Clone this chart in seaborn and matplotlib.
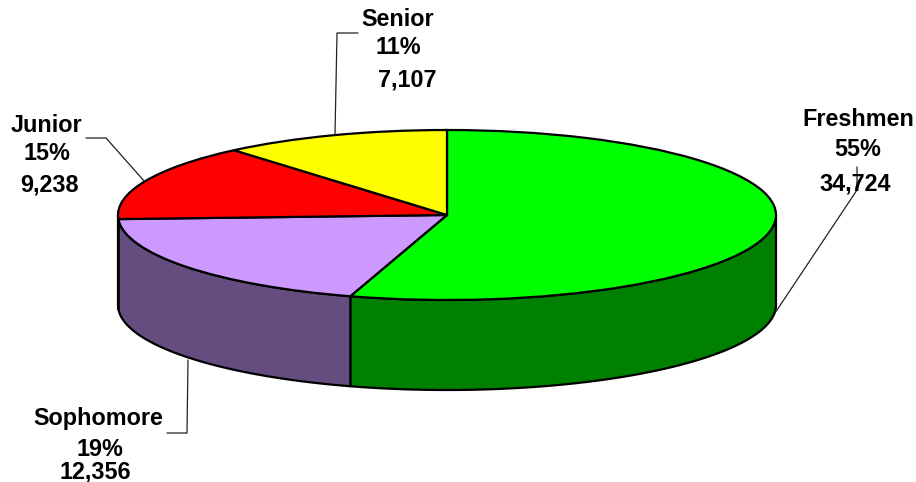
import numpy as np
import seaborn as sns
import matplotlib.pyplot as plt

# Chart data
classes = ['Freshmen', 'Sophomore', 'Junior', 'Senior']
students = [34724, 12356, 9238, 7107]
percents = ['55%', '19%', '15%', '11%']
counts = ['34,724', '12,356', '9,238', '7,107']

sns.set_theme(style='white')
plt.rcParams['font.family'] = ['Liberation Sans', 'DejaVu Sans']
palette = sns.color_palette(['#00FF00', '#CC99FF', '#FF0000', '#FFFF00'])

# ellipse geometry of the pie in pixels
cx, cy, rx, ry, depth = 447, 215, 329, 85, 90
W, H = 916, 482

fig = plt.figure(figsize=(W / 100, H / 100), dpi=100)
ax = fig.add_axes([0, 0, 1, 1])

# side wall first, only the front half of each slice shows
values = np.array(students, dtype=float)
ends = 90 - 360 * np.cumsum(values) / values.sum()
starts = np.r_[90, ends[:-1]]
for start, end, col in zip(starts, ends, palette):
    a = min(start, 0)
    b = max(end, -180)
    if a <= b:
        continue
    th = np.radians(np.linspace(a, b, 120))
    x = np.cos(th)
    y = np.sin(th)
    ax.fill(np.r_[x, x[::-1]], np.r_[y, y[::-1] - depth / ry],
            facecolor=np.array(col) * 0.5, edgecolor='black', lw=1.6, joinstyle='round')

ax.pie(values, colors=palette, startangle=90, counterclock=False, radius=1,
       wedgeprops={'edgecolor': 'black', 'linewidth': 1.6})
ax.set_aspect('auto')
ax.set_xlim((0 - cx) / rx, (W - cx) / rx)
ax.set_ylim((cy - H) / ry, cy / ry)
ax.axis('off')

# overlay in pixel coordinates for the callouts
ov = fig.add_axes([0, 0, 1, 1], facecolor='none')
ov.set_xlim(0, W)
ov.set_ylim(H, 0)
ov.axis('off')

leaders = {
    'Freshmen': ([857, 857, 775], [167, 190, 313]),
    'Sophomore': ([167, 187, 188], [433, 433, 360]),
    'Junior': ([86, 106, 145], [138, 138, 182]),
    'Senior': ([358, 337, 335], [33, 33, 135]),
}
for name in classes:
    xs, ys = leaders[name]
    ov.plot(xs, ys, color='#222222', lw=0.9)

spots = {
    'Freshmen': [(858, 120), (858, 149), (855, 184)],
    'Sophomore': [(98, 419), (100, 449), (95, 472)],
    'Junior': [(46, 126), (47, 154), (50, 185)],
    'Senior': [(398, 20), (398, 48), (407, 80)],
}
for name, pct, cnt in zip(classes, percents, counts):
    for (tx, ty), s in zip(spots[name], [name, pct, cnt]):
        ov.text(tx, ty, s, ha='center', va='center', fontsize=16.8,
                fontweight='bold', color='black')

fig.savefig('out.png', dpi=100, facecolor='white')
